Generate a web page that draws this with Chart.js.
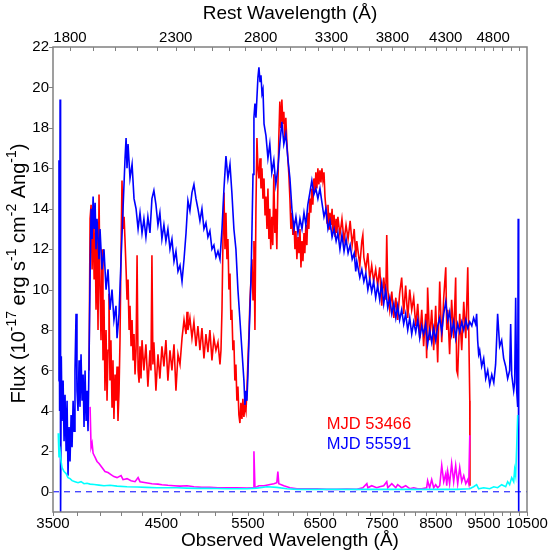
<!DOCTYPE html>
<html>
<head>
<meta charset="utf-8">
<script src="https://cdn.jsdelivr.net/npm/chart.js@4.4.1/dist/chart.umd.min.js"></script>
<style>
  html, body { margin: 0; padding: 0; background: #ffffff; }
  #wrap { width: 549px; height: 555px; }
</style>
</head>
<body>
<div id="wrap"><canvas id="chart-spectra"></canvas></div>
<script>
const REDSHIFT = 1.0226;
const OBS_LABELS = [3500, 4500, 5500, 6500, 7500, 8500, 9500, 10500];
const REST_LABELS = [1800, 2300, 2800, 3300, 3800, 4300, 4800];
const FLUX_LABELS = [0, 2, 4, 6, 8, 10, 12, 14, 16, 18, 20, 22];

// MJD 55591 spectrum (blue)
const BLUE_WL = [3543, 3549, 3554, 3558, 3562, 3568, 3574, 3583, 3591, 3599, 3608, 3616, 3624, 3633, 3641, 3650, 3658, 3667, 3675, 3683,
  3692, 3700, 3709, 3718, 3726, 3735, 3744, 3753, 3761, 3770, 3779, 3787, 3796, 3805, 3814, 3823, 3832, 3841, 3850, 3859,
  3867, 3876, 3894, 3903, 3921, 3939, 3958, 3976, 3994, 4013, 4031, 4050, 4060, 4079, 4098, 4117, 4136, 4146, 4155, 4165,
  4184, 4204, 4223, 4243, 4263, 4282, 4302, 4321, 4341, 4361, 4382, 4402, 4422, 4443, 4464, 4484, 4505, 4526, 4547, 4568,
  4590, 4611, 4633, 4654, 4676, 4698, 4720, 4742, 4764, 4785, 4807, 4830, 4852, 4875, 4897, 4920, 4943, 4966, 4989, 5012,
  5035, 5059, 5082, 5106, 5130, 5154, 5178, 5202, 5226, 5250, 5275, 5298, 5323, 5348, 5373, 5398, 5423, 5448, 5461, 5474,
  5486, 5499, 5512, 5525, 5538, 5551, 5564, 5576, 5589, 5602, 5615, 5628, 5641, 5655, 5668, 5681, 5694, 5708, 5734, 5760,
  5785, 5812, 5839, 5866, 5894, 5921, 5949, 5976, 6004, 6032, 6061, 6089, 6118, 6146, 6175, 6204, 6233, 6262, 6289, 6318,
  6348, 6377, 6407, 6437, 6467, 6498, 6528, 6559, 6589, 6620, 6651, 6683, 6714, 6746, 6774, 6806, 6838, 6871, 6903, 6936,
  6969, 7002, 7035, 7060, 7077, 7127, 7160, 7194, 7227, 7261, 7292, 7326, 7359, 7394, 7428, 7463, 7498, 7533, 7568, 7604,
  7639, 7675, 7711, 7747, 7780, 7816, 7853, 7890, 7926, 7964, 8001, 8038, 8075, 8113, 8151, 8189, 8227, 8263, 8302, 8340,
  8379, 8419, 8458, 8497, 8537, 8577, 8617, 8657, 8698, 8738, 8776, 8817, 8859, 8900, 8942, 8984, 9026, 9068, 9111, 9153,
  9196, 9239, 9278, 9321, 9343, 9365, 9387, 9409, 9453, 9497, 9542, 9586, 9631, 9677, 9722, 9763, 9786, 9809, 9832, 9855,
  9901, 9947, 9994, 10040, 10086, 10110, 10134, 10181, 10204, 10228, 10252, 10276, 10288, 10300];
const BLUE_FLUX = [5.5, 16.4, 4.0, 19.4, -1.5, 6.7, 3.5, 5.5, 2.5, 4.8, 2.0, 4.5, 0.8, 3.2, 1.5, 3.8, 2.2, 4.5, 3.0, 6.0,
  8.8, 5.0, 4.0, 6.5, 4.2, 6.8, 4.5, 5.8, 3.2, 6.0, 3.5, 5.0, 3.0, 6.5, 10.5, 14.0, 12.5, 14.6, 13.0, 14.3,
  12.0, 13.5, 11.5, 13.0, 11.0, 12.0, 10.0, 11.0, 9.0, 10.0, 8.5, 9.2, 7.6, 8.8, 11.5, 14.0, 16.5, 17.5, 16.0, 17.2,
  15.5, 16.2, 14.5, 14.0, 13.0, 13.8, 12.8, 13.5, 12.6, 13.6, 12.8, 14.5, 14.9, 14.2, 13.2, 13.8, 12.5, 13.2, 12.4, 13.0,
  12.0, 12.5, 11.4, 11.9, 10.9, 11.2, 10.4, 11.5, 12.8, 14.4, 13.9, 14.8, 15.2, 14.5, 14.0, 13.4, 14.0, 13.0, 13.3, 12.6,
  12.9, 12.0, 12.2, 11.6, 11.9, 11.5, 13.0, 15.0, 16.6, 15.5, 16.2, 14.8, 13.0, 12.0, 10.0, 8.5, 7.0, 5.5, 4.3, 5.0,
  4.5, 5.8, 7.5, 9.0, 10.5, 13.0, 15.7, 18.5, 19.2, 18.5, 19.5, 20.5, 21.0, 20.3, 20.6, 19.7, 19.9, 18.2, 17.6, 16.5,
  17.2, 15.8, 16.4, 15.2, 16.0, 17.2, 18.3, 17.2, 17.7, 16.5, 15.5, 14.0, 13.0, 13.6, 12.8, 13.5, 13.0, 13.8, 13.2, 14.2,
  14.8, 15.4, 14.7, 15.0, 14.5, 15.0, 14.3, 13.6, 14.0, 13.0, 13.4, 12.6, 13.0, 12.4, 12.8, 12.0, 12.7, 11.9, 12.5, 11.8,
  12.2, 11.5, 11.8, 10.9, 11.4, 10.6, 11.0, 10.4, 10.8, 10.0, 10.5, 9.9, 10.4, 9.6, 10.2, 9.5, 10.3, 9.3, 10.0, 9.1,
  9.6, 8.8, 9.3, 8.6, 9.2, 8.5, 9.0, 8.3, 8.8, 8.0, 8.6, 7.8, 8.4, 7.9, 8.5, 7.6, 8.2, 7.8, 8.3, 7.3,
  8.0, 7.4, 8.1, 7.5, 8.2, 8.6, 7.9, 8.8, 9.4, 8.5, 8.9, 7.8, 8.4, 7.6, 8.3, 7.9, 8.4, 8.0, 8.5, 8.1,
  8.4, 8.2, 8.6, 8.3, 8.8, 7.5, 6.8, 7.0, 6.2, 6.6, 5.6, 6.0, 5.3, 5.8, 5.4, 6.3, 7.5, 8.8, 8.0, 7.2,
  7.5, 6.6, 6.2, 5.6, 6.0, 8.3, 5.8, 5.0, 5.4, 9.6, 5.0, 4.2, 13.5, -1.5];

// MJD 53466 spectrum (red)
const RED_WL = [3805, 3814, 3823, 3832, 3841, 3850, 3859, 3867, 3876, 3885, 3894, 3903, 3912, 3921, 3930, 3939, 3948, 3958, 3967, 3976,
  3985, 3994, 4003, 4013, 4022, 4031, 4041, 4050, 4060, 4069, 4079, 4088, 4098, 4107, 4117, 4127, 4136, 4146, 4155, 4165,
  4175, 4184, 4194, 4204, 4214, 4223, 4233, 4243, 4253, 4263, 4273, 4282, 4292, 4302, 4321, 4341, 4361, 4382, 4392, 4402,
  4412, 4422, 4443, 4464, 4484, 4505, 4526, 4547, 4568, 4590, 4611, 4633, 4654, 4676, 4698, 4720, 4742, 4764, 4775, 4785,
  4807, 4830, 4852, 4875, 4897, 4920, 4943, 4966, 4989, 5012, 5035, 5059, 5082, 5106, 5130, 5154, 5166, 5178, 5190, 5202,
  5214, 5226, 5238, 5250, 5262, 5275, 5286, 5298, 5311, 5323, 5335, 5348, 5360, 5373, 5385, 5398, 5410, 5423, 5435, 5448,
  5461, 5474, 5486, 5499, 5512, 5525, 5538, 5551, 5564, 5576, 5589, 5602, 5615, 5628, 5641, 5655, 5668, 5681, 5694, 5708,
  5721, 5734, 5747, 5760, 5773, 5785, 5798, 5812, 5825, 5839, 5853, 5866, 5880, 5894, 5907, 5921, 5935, 5949, 5963, 5976,
  5990, 6004, 6018, 6032, 6046, 6061, 6075, 6089, 6103, 6118, 6132, 6146, 6160, 6175, 6189, 6204, 6218, 6233, 6247, 6262,
  6274, 6289, 6304, 6318, 6333, 6348, 6362, 6377, 6392, 6407, 6422, 6437, 6452, 6467, 6482, 6498, 6513, 6528, 6543, 6559,
  6574, 6589, 6605, 6620, 6636, 6651, 6667, 6683, 6698, 6714, 6730, 6746, 6758, 6774, 6806, 6838, 6871, 6903, 6936, 6969,
  7002, 7035, 7060, 7077, 7127, 7160, 7177, 7194, 7227, 7261, 7292, 7326, 7359, 7394, 7428, 7463, 7498, 7533, 7568, 7586,
  7604, 7639, 7675, 7711, 7747, 7780, 7816, 7853, 7890, 7926, 7964, 8001, 8038, 8075, 8113, 8151, 8189, 8227, 8263, 8302,
  8321, 8340, 8379, 8419, 8458, 8497, 8537, 8577, 8617, 8657, 8698, 8718, 8738, 8776, 8817, 8859, 8900, 8921, 8942, 8984,
  9026, 9068, 9111, 9153, 9174, 9196, 9200];
const RED_FLUX = [6.0, 13.5, 14.2, 11.0, 13.8, 10.5, 13.0, 9.0, 12.5, 8.0, 14.7, 10.0, 7.5, 12.0, 6.5, 9.5, 5.0, 8.0, 4.5, 7.0,
  9.8, 5.5, 7.5, 4.2, 6.5, 3.6, 5.8, 4.5, 6.2, 3.5, 5.0, 7.5, 12.0, 15.4, 13.0, 13.6, 12.4, 11.0, 9.5, 10.5,
  8.0, 9.2, 7.2, 8.5, 6.5, 7.8, 5.8, 7.0, 11.7, 6.0, 5.4, 7.2, 5.6, 7.5, 6.0, 7.3, 5.2, 7.0, 6.0, 11.7,
  6.3, 7.4, 5.0, 6.8, 5.6, 7.2, 6.2, 7.5, 5.5, 7.0, 6.0, 7.3, 5.0, 6.8, 6.3, 7.6, 8.5, 7.8, 8.9, 8.0,
  8.6, 7.6, 8.4, 7.2, 8.2, 7.0, 8.1, 6.6, 7.8, 6.9, 8.0, 6.5, 7.6, 7.0, 7.4, 6.3, 7.0, 9.0, 12.5, 14.8,
  12.0, 13.8, 11.5, 12.5, 10.0, 10.8, 8.5, 9.0, 7.0, 7.5, 5.5, 6.3, 4.5, 5.2, 3.8, 3.4, 4.4, 3.6, 4.6, 3.7,
  4.3, 4.0, 5.0, 6.5, 7.8, 9.5, 10.5, 11.5, 9.5, 12.4, 8.0, 14.0, 17.5, 16.0, 15.5, 16.5, 15.0, 16.0, 14.5, 15.5,
  13.7, 14.6, 13.0, 15.0, 12.5, 14.0, 12.0, 13.6, 12.2, 15.7, 12.8, 14.0, 12.0, 15.0, 17.5, 19.3, 18.0, 19.4, 18.2, 18.8,
  17.5, 18.5, 17.3, 16.5, 15.7, 14.5, 13.0, 13.8, 12.7, 13.4, 12.0, 12.9, 11.5, 12.6, 11.8, 13.0, 11.1, 12.4, 11.4, 12.8,
  11.8, 13.2, 12.2, 13.8, 13.0, 14.5, 13.8, 15.0, 14.2, 15.5, 14.8, 15.8, 15.0, 16.0, 15.2, 15.9, 15.3, 16.0, 15.4, 15.8,
  14.6, 14.0, 13.3, 14.2, 13.0, 13.8, 13.2, 14.0, 12.8, 13.7, 12.6, 13.5, 12.8, 13.6, 12.7, 13.5, 12.4, 13.2, 12.5, 13.4,
  12.2, 13.0, 11.6, 12.4, 11.2, 12.4, 12.7, 11.6, 11.0, 11.8, 10.5, 11.2, 10.4, 11.0, 10.2, 11.1, 9.2, 10.6, 9.5, 12.7,
  10.0, 9.0, 9.9, 8.6, 9.6, 8.5, 9.8, 10.6, 8.8, 10.2, 8.6, 10.0, 9.0, 9.6, 8.2, 9.3, 7.6, 9.0, 7.2, 8.8,
  6.6, 10.1, 7.5, 9.0, 7.0, 9.2, 6.4, 10.4, 7.4, 9.6, 11.1, 8.0, 9.0, 6.8, 9.5, 7.6, 10.6, 6.0, 5.8, 8.8,
  7.0, 9.4, 7.6, 11.1, 8.0, 4.5, 0.3];

// error spectrum of MJD 53466 (magenta)
const MAG_WL = [3814, 3823, 3832, 3841, 3859, 3876, 3894, 3921, 3948, 3976, 4003, 4031, 4060, 4098, 4117, 4155, 4194, 4233, 4263, 4282,
  4341, 4402, 4464, 4505, 4568, 4633, 4698, 4775, 4852, 4943, 5035, 5130, 5238, 5360, 5486, 5564, 5576, 5589, 5641, 5708,
  5773, 5839, 5880, 5894, 5907, 5976, 6061, 6160, 6303, 6451, 6603, 6755, 6914, 7077, 7177, 7244, 7261, 7326, 7411, 7463,
  7533, 7586, 7604, 7675, 7747, 7780, 7853, 7926, 8001, 8075, 8151, 8227, 8321, 8340, 8379, 8419, 8458, 8497, 8537, 8577,
  8617, 8657, 8698, 8718, 8738, 8776, 8817, 8859, 8900, 8942, 8984, 9026, 9068, 9111, 9153, 9174, 9196];
const MAG_FLUX = [4.2, 2.2, 2.4, 1.9, 1.7, 1.5, 1.4, 1.2, 1.0, 0.95, 0.85, 0.75, 0.7, 0.8, 0.6, 0.65, 0.55, 0.5, 0.7, 0.5,
  0.45, 0.4, 0.38, 0.35, 0.32, 0.3, 0.28, 0.3, 0.25, 0.22, 0.22, 0.2, 0.2, 0.2, 0.18, 0.2, 2.0, 0.2, 0.3, 0.3,
  0.35, 0.4, 0.45, 1.0, 0.4, 0.3, 0.2, 0.15, 0.15, 0.15, 0.12, 0.12, 0.14, 0.12, 0.2, 0.4, 0.2, 0.3, 0.2, 0.25,
  0.3, 0.5, 0.2, 0.4, 0.2, 0.35, 0.2, 0.3, 0.15, 0.2, 0.15, 0.15, 0.2, 0.55, 0.2, 0.6, 0.2, 0.35, 0.2, 0.3,
  1.3, 0.5, 0.9, 0.3, 1.0, 0.4, 1.4, 0.5, 1.3, 0.4, 1.2, 0.5, 0.8, 0.4, 0.6, 0.4, 2.8];

// error spectrum of MJD 55591 (cyan)
const CYAN_WL = [3543, 3549, 3558, 3566, 3574, 3591, 3608, 3624, 3641, 3658, 3683, 3709, 3735, 3761, 3787, 3814, 3850, 3894, 3939, 3994,
  4060, 4155, 4253, 4351, 4453, 4558, 4665, 4774, 4885, 5000, 5118, 5238, 5360, 5486, 5615, 5747, 5880, 6018, 6160, 6451,
  6755, 7077, 7411, 7765, 8132, 8517, 8921, 9196, 9278, 9343, 9387, 9497, 9631, 9722, 9809, 9901, 9994, 10040, 10086, 10134,
  10181, 10204, 10228, 10252, 10276];
const CYAN_FLUX = [2.9, 1.7, 2.0, 1.5, 1.2, 1.0, 0.9, 0.7, 0.65, 0.55, 0.5, 0.45, 0.5, 0.4, 0.42, 0.38, 0.36, 0.33, 0.3, 0.32,
  0.28, 0.25, 0.24, 0.22, 0.2, 0.2, 0.2, 0.18, 0.17, 0.17, 0.16, 0.15, 0.15, 0.15, 0.18, 0.25, 0.22, 0.15, 0.12, 0.12,
  0.12, 0.12, 0.12, 0.12, 0.12, 0.12, 0.12, 0.15, 0.25, 0.35, 0.15, 0.2, 0.15, 0.25, 0.2, 0.35, 0.25, 0.5, 0.35, 0.7,
  0.5, 1.1, 0.8, 2.2, 3.8];

const ZERO_WL = [3500, 10500];
const ZERO_FLUX = [0, 0];

const LEGEND_ITEMS = [
  { text: "MJD 53466", color: "#ff0000", wl: 6602, flux: 3.35 },
  { text: "MJD 55591", color: "#0000ff", wl: 6602, flux: 2.36 },
];

// y title pieces: [text, isSuperscript]
const Y_TITLE_PARTS = [["Flux (10", false], ["-17", true], [" erg s", false], ["-1", true], [" cm", false], ["-2", true], [" Ang", false], ["-1", true], [")", false]];

const AXIS_COLOR = "#808080";
const FONT_FAMILY = "'Liberation Sans', Arial, Helvetica, sans-serif";

function pairs(xs, ys) {
  return xs.map((x, i) => ({ x, y: ys[i] }));
}

function spectrum(label, xs, ys, color) {
  return {
    label,
    data: pairs(xs, ys),
    borderColor: color,
    borderWidth: 1.6,
    pointRadius: 0,
    fill: false,
    tension: 0,
    xAxisID: "x",
    yAxisID: "y",
  };
}

function drawYTitle(ctx, area) {
  const mainFont = "20px " + FONT_FAMILY;
  const supFont = "14px " + FONT_FAMILY;
  let total = 0;
  Y_TITLE_PARTS.forEach(([t, sup]) => {
    ctx.font = sup ? supFont : mainFont;
    total += ctx.measureText(t).width;
  });
  ctx.save();
  ctx.translate(19.5, (area.top + area.bottom) / 2 - 6);
  ctx.rotate(-Math.PI / 2);
  ctx.fillStyle = "#000000";
  ctx.textAlign = "left";
  ctx.textBaseline = "middle";
  let x = -total / 2;
  Y_TITLE_PARTS.forEach(([t, sup]) => {
    ctx.font = sup ? supFont : mainFont;
    ctx.fillText(t, x, sup ? -7 : 0);
    x += ctx.measureText(t).width;
  });
  ctx.restore();
}

// box frame, tick marks, y title and the two-line legend
const frameAndLegend = {
  id: "frameAndLegend",
  afterDatasetsDraw(chart) {
    const { ctx, chartArea: a, scales } = chart;
    ctx.save();
    ctx.strokeStyle = AXIS_COLOR;
    ctx.lineWidth = 1.5;
    ctx.strokeRect(a.left, a.top, a.right - a.left, a.bottom - a.top);
    ctx.beginPath();
    scales.x.ticks.forEach((t) => {
      const px = Math.round(scales.x.getPixelForValue(t.value)) + 0.5;
      ctx.moveTo(px, a.bottom);
      ctx.lineTo(px, a.bottom + 4);
    });
    scales.x2.ticks.forEach((t) => {
      const px = Math.round(scales.x2.getPixelForValue(t.value)) + 0.5;
      ctx.moveTo(px, a.top);
      ctx.lineTo(px, a.top + 4);
    });
    scales.y.ticks.forEach((t) => {
      const py = Math.round(scales.y.getPixelForValue(t.value)) + 0.5;
      ctx.moveTo(a.left - 4, py);
      ctx.lineTo(a.left, py);
    });
    ctx.lineWidth = 1;
    ctx.stroke();

    ctx.font = "16.5px " + FONT_FAMILY;
    ctx.textAlign = "left";
    ctx.textBaseline = "middle";
    LEGEND_ITEMS.forEach((item) => {
      ctx.fillStyle = item.color;
      ctx.fillText(item.text, scales.x.getPixelForValue(item.wl), scales.y.getPixelForValue(item.flux));
    });
    ctx.restore();

    drawYTitle(ctx, a);
  },
};

const obsTicks = [];
for (let v = 3500; v <= 10500; v += 200) obsTicks.push(v);
const restTicks = [];
for (let v = 1800; v <= 5100; v += 100) restTicks.push(v);

const tickFont = { family: FONT_FAMILY, size: 15 };
const titleFont = { family: FONT_FAMILY, size: 19 };

new Chart(document.getElementById("chart-spectra"), {
  type: "line",
  data: {
    datasets: [
      spectrum("err 55591", CYAN_WL, CYAN_FLUX, "#00ffff"),
      spectrum("err 53466", MAG_WL, MAG_FLUX, "#ff00ff"),
      spectrum("MJD 55591", BLUE_WL, BLUE_FLUX, "#0000ff"),
      spectrum("MJD 53466", RED_WL, RED_FLUX, "#ff0000"),
      {
        label: "zero",
        data: pairs(ZERO_WL, ZERO_FLUX),
        borderColor: "#0000ff",
        borderWidth: 1,
        borderDash: [6, 5],
        pointRadius: 0,
        xAxisID: "x",
        yAxisID: "y",
      },
    ],
  },
  options: {
    responsive: true,
    maintainAspectRatio: false,
    animation: false,
    events: [],
    layout: { padding: { left: 0, right: 22, top: 0, bottom: 0 } },
    plugins: { legend: { display: false }, tooltip: { enabled: false } },
    scales: {
      x: {
        type: "logarithmic",
        position: "bottom",
        min: 3500,
        max: 10500,
        grid: { display: false, drawTicks: false },
        border: { display: false },
        ticks: {
          autoSkip: false,
          maxRotation: 0,
          padding: 3,
          color: "#000000",
          font: tickFont,
          callback: (v) => (OBS_LABELS.includes(v) ? String(v) : ""),
        },
        afterBuildTicks: (s) => { s.ticks = obsTicks.map((v) => ({ value: v })); },
        afterFit: (s) => { s.height = 43; s.paddingLeft = 0; s.paddingRight = 0; },
        title: { display: true, text: "Observed Wavelength (Å)", color: "#000000", font: titleFont, padding: { top: 0, bottom: 3 } },
      },
      x2: {
        type: "logarithmic",
        axis: "x",
        position: "top",
        min: 3500 / (1 + REDSHIFT),
        max: 10500 / (1 + REDSHIFT),
        grid: { display: false, drawTicks: false },
        border: { display: false },
        ticks: {
          autoSkip: false,
          maxRotation: 0,
          padding: 0,
          color: "#000000",
          font: tickFont,
          callback: (v) => (REST_LABELS.includes(v) ? String(v) : ""),
        },
        afterBuildTicks: (s) => { s.ticks = restTicks.map((v) => ({ value: v })); },
        afterFit: (s) => { s.height = 47; s.paddingLeft = 0; s.paddingRight = 0; },
        title: { display: true, text: "Rest Wavelength (Å)", color: "#000000", font: titleFont, padding: { top: 2, bottom: 0 } },
      },
      y: {
        type: "linear",
        position: "left",
        min: -1,
        max: 22,
        grid: { display: false, drawTicks: false },
        border: { display: false },
        ticks: { padding: 4, color: "#000000", font: tickFont },
        afterBuildTicks: (s) => { s.ticks = FLUX_LABELS.map((v) => ({ value: v })); },
        afterFit: (s) => { s.width = 53; s.paddingTop = 0; s.paddingBottom = 0; },
        title: { display: false },
      },
    },
  },
  plugins: [frameAndLegend],
});
</script>
</body>
</html>
